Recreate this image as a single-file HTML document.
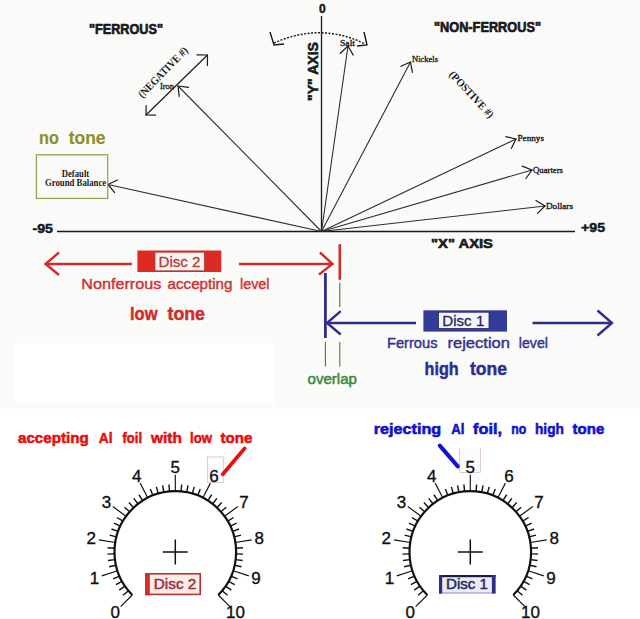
<!DOCTYPE html><html><head><meta charset="utf-8"><title>Disc diagram</title>
<style>html,body{margin:0;padding:0;background:#fff;}svg{display:block}text{font-family:"Liberation Sans",sans-serif}.se{font-family:"Liberation Serif",serif}</style></head><body>
<svg width="640" height="619" viewBox="0 0 640 619">
<rect x="0" y="0" width="640" height="619" fill="#ffffff"/>
<rect x="0" y="0" width="640" height="409" fill="#fafaf9"/>
<rect x="15" y="343" width="259" height="61" fill="#ffffff"/>
<line x1="57" y1="231.5" x2="575" y2="231.5" stroke="#1a1a1a" stroke-width="1.3"/>
<line x1="321.5" y1="16" x2="321.5" y2="231.5" stroke="#1a1a1a" stroke-width="1.3"/>
<line x1="321.5" y1="231.5" x2="108" y2="184.5" stroke="#2e2e2e" stroke-width="1.1"/>
<line x1="108.0" y1="184.5" x2="117.5" y2="180.0" stroke="#1a1a1a" stroke-width="1.2" stroke-linecap="round"/><line x1="108.0" y1="184.5" x2="114.7" y2="192.6" stroke="#1a1a1a" stroke-width="1.2" stroke-linecap="round"/>
<line x1="321.5" y1="231.5" x2="178" y2="86" stroke="#2e2e2e" stroke-width="1.1"/>
<line x1="178.0" y1="86.0" x2="188.4" y2="87.4" stroke="#1a1a1a" stroke-width="1.2" stroke-linecap="round"/><line x1="178.0" y1="86.0" x2="179.2" y2="96.4" stroke="#1a1a1a" stroke-width="1.2" stroke-linecap="round"/>
<line x1="321.5" y1="231.5" x2="348" y2="46" stroke="#2e2e2e" stroke-width="1.1"/>
<line x1="348.0" y1="46.0" x2="353.2" y2="55.1" stroke="#1a1a1a" stroke-width="1.2" stroke-linecap="round"/><line x1="348.0" y1="46.0" x2="340.4" y2="53.3" stroke="#1a1a1a" stroke-width="1.2" stroke-linecap="round"/>
<line x1="321.5" y1="231.5" x2="410.5" y2="62" stroke="#2e2e2e" stroke-width="1.1"/>
<line x1="410.5" y1="62.0" x2="412.4" y2="72.3" stroke="#1a1a1a" stroke-width="1.2" stroke-linecap="round"/><line x1="410.5" y1="62.0" x2="400.9" y2="66.3" stroke="#1a1a1a" stroke-width="1.2" stroke-linecap="round"/>
<line x1="321.5" y1="231.5" x2="516" y2="139" stroke="#2e2e2e" stroke-width="1.1"/>
<line x1="516.0" y1="139.0" x2="511.3" y2="148.4" stroke="#1a1a1a" stroke-width="1.2" stroke-linecap="round"/><line x1="516.0" y1="139.0" x2="505.8" y2="136.7" stroke="#1a1a1a" stroke-width="1.2" stroke-linecap="round"/>
<line x1="321.5" y1="231.5" x2="532" y2="170" stroke="#2e2e2e" stroke-width="1.1"/>
<line x1="532.0" y1="170.0" x2="525.9" y2="178.5" stroke="#1a1a1a" stroke-width="1.2" stroke-linecap="round"/><line x1="532.0" y1="170.0" x2="522.2" y2="166.1" stroke="#1a1a1a" stroke-width="1.2" stroke-linecap="round"/>
<line x1="321.5" y1="231.5" x2="545" y2="206" stroke="#2e2e2e" stroke-width="1.1"/>
<line x1="545.0" y1="206.0" x2="537.5" y2="213.4" stroke="#1a1a1a" stroke-width="1.2" stroke-linecap="round"/><line x1="545.0" y1="206.0" x2="536.0" y2="200.5" stroke="#1a1a1a" stroke-width="1.2" stroke-linecap="round"/>
<line x1="146" y1="115" x2="207.5" y2="55" stroke="#1a1a1a" stroke-width="1.2"/>
<line x1="207.5" y1="55.0" x2="207.4" y2="65.5" stroke="#1a1a1a" stroke-width="1.2" stroke-linecap="round"/><line x1="207.5" y1="55.0" x2="197.0" y2="54.9" stroke="#1a1a1a" stroke-width="1.2" stroke-linecap="round"/>
<line x1="146.0" y1="115.0" x2="146.1" y2="105.5" stroke="#1a1a1a" stroke-width="1.2" stroke-linecap="round"/><line x1="146.0" y1="115.0" x2="155.5" y2="115.1" stroke="#1a1a1a" stroke-width="1.2" stroke-linecap="round"/>
<path d="M274,43 Q321,22 365,44" fill="none" stroke="#1a1a1a" stroke-width="1.5" stroke-dasharray="2,1.5"/>
<polyline points="270,32 274,45 284,44" fill="none" stroke="#1a1a1a" stroke-width="1.4"/>
<polyline points="364,32 367,45 357,46" fill="none" stroke="#1a1a1a" stroke-width="1.4"/>
<text x="89" y="34" font-size="14.5" font-weight="bold" fill="#1a1a1a" text-anchor="start" stroke="#1a1a1a" stroke-width="0.7" stroke-linejoin="round" textLength="74" lengthAdjust="spacingAndGlyphs" >"FERROUS"</text>
<text x="434" y="32" font-size="14.5" font-weight="bold" fill="#1a1a1a" text-anchor="start" stroke="#1a1a1a" stroke-width="0.7" stroke-linejoin="round" textLength="107" lengthAdjust="spacingAndGlyphs" >"NON-FERROUS"</text>
<text x="319" y="13" font-size="12" font-weight="bold" fill="#1a1a1a" text-anchor="start" stroke="#1a1a1a" stroke-width="0.5" stroke-linejoin="round" >0</text>
<text x="32.5" y="232.5" font-size="12" font-weight="bold" fill="#1a1a1a" text-anchor="start" stroke="#1a1a1a" stroke-width="0.5" stroke-linejoin="round" textLength="20.5" lengthAdjust="spacingAndGlyphs" >-95</text>
<text x="581" y="231.5" font-size="12" font-weight="bold" fill="#1a1a1a" text-anchor="start" stroke="#1a1a1a" stroke-width="0.5" stroke-linejoin="round" textLength="24" lengthAdjust="spacingAndGlyphs" >+95</text>
<text x="431" y="248" font-size="13" font-weight="bold" fill="#1a1a1a" text-anchor="start" stroke="#1a1a1a" stroke-width="0.6" stroke-linejoin="round" textLength="62" lengthAdjust="spacingAndGlyphs" >"X" AXIS</text>
<text transform="translate(317.5,101) rotate(-90)" font-size="14" font-weight="bold" fill="#1a1a1a" stroke="#1a1a1a" stroke-width="0.6" textLength="59" lengthAdjust="spacingAndGlyphs">"Y" AXIS</text>
<text class="se" transform="translate(142.6,98.5) rotate(-46)" font-size="11" font-weight="bold" fill="#1a1a1a" textLength="66" lengthAdjust="spacingAndGlyphs">(NEGATIVE #)</text>
<text class="se" transform="translate(448.5,75) rotate(47)" font-size="11" font-weight="bold" fill="#1a1a1a" textLength="60" lengthAdjust="spacingAndGlyphs">(POSTIVE #)</text>
<text x="160" y="89" font-size="9" font-weight="normal" fill="#1a1a1a" text-anchor="start" stroke="#1a1a1a" stroke-width="0.35" stroke-linejoin="round" textLength="14" lengthAdjust="spacingAndGlyphs" class="se" >Iron</text>
<text x="340" y="46" font-size="9" font-weight="normal" fill="#1a1a1a" text-anchor="start" stroke="#1a1a1a" stroke-width="0.35" stroke-linejoin="round" textLength="15" lengthAdjust="spacingAndGlyphs" class="se" >Salt</text>
<text x="412" y="62" font-size="9" font-weight="normal" fill="#1a1a1a" text-anchor="start" stroke="#1a1a1a" stroke-width="0.35" stroke-linejoin="round" textLength="26" lengthAdjust="spacingAndGlyphs" class="se" >Nickels</text>
<text x="517.5" y="141" font-size="9" font-weight="normal" fill="#1a1a1a" text-anchor="start" stroke="#1a1a1a" stroke-width="0.35" stroke-linejoin="round" textLength="26.5" lengthAdjust="spacingAndGlyphs" class="se" >Pennys</text>
<text x="533" y="173" font-size="9" font-weight="normal" fill="#1a1a1a" text-anchor="start" stroke="#1a1a1a" stroke-width="0.35" stroke-linejoin="round" textLength="30" lengthAdjust="spacingAndGlyphs" class="se" >Quarters</text>
<text x="546" y="209" font-size="9" font-weight="normal" fill="#1a1a1a" text-anchor="start" stroke="#1a1a1a" stroke-width="0.35" stroke-linejoin="round" textLength="27" lengthAdjust="spacingAndGlyphs" class="se" >Dollars</text>
<text x="61.7" y="176.8" font-size="9.5" font-weight="bold" fill="#1a1a1a" text-anchor="start" textLength="27.5" lengthAdjust="spacingAndGlyphs" class="se" >Default</text>
<text x="45" y="186" font-size="9.5" font-weight="bold" fill="#1a1a1a" text-anchor="start" textLength="61.2" lengthAdjust="spacingAndGlyphs" class="se" >Ground Balance</text>
<text x="39" y="143.6" font-size="18.5" font-weight="bold" fill="#8f8f2c" text-anchor="start" stroke="#8f8f2c" stroke-width="0.2" stroke-linejoin="round" textLength="19.8" lengthAdjust="spacingAndGlyphs" >no</text>
<text x="68.75" y="143.6" font-size="18.5" font-weight="bold" fill="#8f8f2c" text-anchor="start" stroke="#8f8f2c" stroke-width="0.2" stroke-linejoin="round" textLength="36.8" lengthAdjust="spacingAndGlyphs" >tone</text>
<rect x="36.4" y="154.8" width="71.3" height="43.6" fill="none" stroke="#a0a052" stroke-width="1.3"/>
<line x1="46" y1="264" x2="132" y2="264" stroke="#cf2c2c" stroke-width="2.4"/>
<polyline points="59,252.5 45.5,264 59,275" fill="none" stroke="#cf2c2c" stroke-width="2.4" stroke-linejoin="miter"/>
<rect x="137.4" y="250.5" width="83.9" height="21.5" fill="#de2a24"/>
<rect x="155" y="252.2" width="49.4" height="18.6" fill="#fbf4f1" stroke="#b23a34" stroke-width="0.8"/>
<text x="158.5" y="267.2" font-size="15.5" font-weight="normal" fill="#b43a3a" text-anchor="start" stroke="#b43a3a" stroke-width="0.3" stroke-linejoin="round" textLength="42" lengthAdjust="spacingAndGlyphs" >Disc 2</text>
<line x1="239" y1="264" x2="332" y2="264" stroke="#cf2c2c" stroke-width="2.4"/>
<polyline points="320,252.5 332.5,264 319,274.5" fill="none" stroke="#cf2c2c" stroke-width="2.4"/>
<line x1="339.8" y1="244.2" x2="339.8" y2="279.8" stroke="#cf2c2c" stroke-width="2.6"/>
<text x="81.25" y="289" font-size="15.5" font-weight="normal" fill="#cc3434" text-anchor="start" stroke="#cc3434" stroke-width="0.45" stroke-linejoin="round" textLength="80.0" lengthAdjust="spacingAndGlyphs" >Nonferrous</text>
<text x="167.5" y="289" font-size="15.5" font-weight="normal" fill="#cc3434" text-anchor="start" stroke="#cc3434" stroke-width="0.45" stroke-linejoin="round" textLength="65.0" lengthAdjust="spacingAndGlyphs" >accepting</text>
<text x="240" y="289" font-size="15.5" font-weight="normal" fill="#cc3434" text-anchor="start" stroke="#cc3434" stroke-width="0.45" stroke-linejoin="round" textLength="29.5" lengthAdjust="spacingAndGlyphs" >level</text>
<text x="130" y="320" font-size="19" font-weight="bold" fill="#cf2c2c" text-anchor="start" stroke="#cf2c2c" stroke-width="0.5" stroke-linejoin="round" textLength="27.5" lengthAdjust="spacingAndGlyphs" >low</text>
<text x="167.5" y="320" font-size="19" font-weight="bold" fill="#cf2c2c" text-anchor="start" stroke="#cf2c2c" stroke-width="0.5" stroke-linejoin="round" textLength="37.5" lengthAdjust="spacingAndGlyphs" >tone</text>
<line x1="339.8" y1="282.5" x2="339.8" y2="307" stroke="#4d6a4d" stroke-width="1.1"/>
<line x1="339.8" y1="342" x2="339.8" y2="366.5" stroke="#3f7f3f" stroke-width="1.1"/>
<line x1="325.4" y1="342" x2="325.4" y2="366.5" stroke="#3f7f3f" stroke-width="1.1"/>
<text x="307.5" y="384" font-size="14" font-weight="normal" fill="#3c8a3c" text-anchor="start" stroke="#3c8a3c" stroke-width="0.5" stroke-linejoin="round" textLength="49.5" lengthAdjust="spacingAndGlyphs" >overlap</text>
<line x1="325.4" y1="273" x2="325.4" y2="338" stroke="#2e2e8c" stroke-width="2.8"/>
<line x1="327" y1="323" x2="416" y2="323" stroke="#2e2e8c" stroke-width="2.4"/>
<polyline points="340.7,311.2 327,323 340.7,334.5" fill="none" stroke="#2e2e8c" stroke-width="2.4"/>
<rect x="423.4" y="310.3" width="83.6" height="21.3" fill="#343c9a"/>
<rect x="438.4" y="312.2" width="50.6" height="16.4" fill="#f4f5fb" stroke="#23235e" stroke-width="0.8"/>
<text x="442.3" y="325.8" font-size="15.5" font-weight="normal" fill="#25255f" text-anchor="start" stroke="#25255f" stroke-width="0.3" stroke-linejoin="round" textLength="42" lengthAdjust="spacingAndGlyphs" >Disc 1</text>
<line x1="532.5" y1="323" x2="611" y2="323" stroke="#2e2e8c" stroke-width="2.4"/>
<polyline points="597.5,310.5 612,323 597.5,335.5" fill="none" stroke="#2e2e8c" stroke-width="2.4"/>
<text x="387" y="348" font-size="15.5" font-weight="normal" fill="#33338f" text-anchor="start" stroke="#33338f" stroke-width="0.45" stroke-linejoin="round" textLength="50.5" lengthAdjust="spacingAndGlyphs" >Ferrous</text>
<text x="447.5" y="348" font-size="15.5" font-weight="normal" fill="#33338f" text-anchor="start" stroke="#33338f" stroke-width="0.45" stroke-linejoin="round" textLength="62.5" lengthAdjust="spacingAndGlyphs" >rejection</text>
<text x="518.75" y="348" font-size="15.5" font-weight="normal" fill="#33338f" text-anchor="start" stroke="#33338f" stroke-width="0.45" stroke-linejoin="round" textLength="29.2" lengthAdjust="spacingAndGlyphs" >level</text>
<text x="424.5" y="375" font-size="19" font-weight="bold" fill="#2e2e8c" text-anchor="start" stroke="#2e2e8c" stroke-width="0.5" stroke-linejoin="round" textLength="34.2" lengthAdjust="spacingAndGlyphs" >high</text>
<text x="470" y="375" font-size="19" font-weight="bold" fill="#2e2e8c" text-anchor="start" stroke="#2e2e8c" stroke-width="0.5" stroke-linejoin="round" textLength="37" lengthAdjust="spacingAndGlyphs" >tone</text>
<text x="18" y="443" font-size="15" font-weight="bold" fill="#e41212" text-anchor="start" stroke="#e41212" stroke-width="0.6" stroke-linejoin="round" textLength="70.8" lengthAdjust="spacingAndGlyphs" >accepting</text>
<text x="98.75" y="443" font-size="15" font-weight="bold" fill="#e41212" text-anchor="start" stroke="#e41212" stroke-width="0.6" stroke-linejoin="round" textLength="13.8" lengthAdjust="spacingAndGlyphs" >Al</text>
<text x="122.5" y="443" font-size="15" font-weight="bold" fill="#e41212" text-anchor="start" stroke="#e41212" stroke-width="0.6" stroke-linejoin="round" textLength="19.5" lengthAdjust="spacingAndGlyphs" >foil</text>
<text x="151" y="443" font-size="15" font-weight="bold" fill="#e41212" text-anchor="start" stroke="#e41212" stroke-width="0.6" stroke-linejoin="round" textLength="31" lengthAdjust="spacingAndGlyphs" >with</text>
<text x="190" y="443" font-size="15" font-weight="bold" fill="#e41212" text-anchor="start" stroke="#e41212" stroke-width="0.6" stroke-linejoin="round" textLength="22" lengthAdjust="spacingAndGlyphs" >low</text>
<text x="220.5" y="443" font-size="15" font-weight="bold" fill="#e41212" text-anchor="start" stroke="#e41212" stroke-width="0.6" stroke-linejoin="round" textLength="32.0" lengthAdjust="spacingAndGlyphs" >tone</text>
<text x="373.75" y="434" font-size="15" font-weight="bold" fill="#1212cc" text-anchor="start" stroke="#1212cc" stroke-width="0.6" stroke-linejoin="round" textLength="67.5" lengthAdjust="spacingAndGlyphs" >rejecting</text>
<text x="451.25" y="434" font-size="15" font-weight="bold" fill="#1212cc" text-anchor="start" stroke="#1212cc" stroke-width="0.6" stroke-linejoin="round" textLength="13.2" lengthAdjust="spacingAndGlyphs" >Al</text>
<text x="473" y="434" font-size="15" font-weight="bold" fill="#1212cc" text-anchor="start" stroke="#1212cc" stroke-width="0.6" stroke-linejoin="round" textLength="29" lengthAdjust="spacingAndGlyphs" >foil,</text>
<text x="511.25" y="434" font-size="15" font-weight="bold" fill="#1212cc" text-anchor="start" stroke="#1212cc" stroke-width="0.6" stroke-linejoin="round" textLength="15.0" lengthAdjust="spacingAndGlyphs" >no</text>
<text x="535" y="434" font-size="15" font-weight="bold" fill="#1212cc" text-anchor="start" stroke="#1212cc" stroke-width="0.6" stroke-linejoin="round" textLength="28.8" lengthAdjust="spacingAndGlyphs" >high</text>
<text x="572.5" y="434" font-size="15" font-weight="bold" fill="#1212cc" text-anchor="start" stroke="#1212cc" stroke-width="0.6" stroke-linejoin="round" textLength="31.8" lengthAdjust="spacingAndGlyphs" >tone</text>
<rect x="207.5" y="457" width="15.8" height="25.5" fill="#fdfcfc" stroke="#e0cfcf" stroke-width="1"/>
<polyline points="459.5,448 459.5,472.5 480.5,472.5 480.5,448" fill="#fdfcfc" stroke="#e0cfcf" stroke-width="1"/>
<path d="M132.31,594.99 A60.8,60.8 0 1 1 218.29,594.99" fill="none" stroke="#111" stroke-width="2.2"/>
<line x1="132.31" y1="594.99" x2="120.64" y2="606.66" stroke="#111" stroke-width="1.15"/>
<text x="115.2" y="617.8" font-size="17" fill="#111" stroke="#111" stroke-width="0.35" text-anchor="middle">0</text>
<line x1="128.45" y1="590.76" x2="123.06" y2="595.22" stroke="#111" stroke-width="1.4"/>
<line x1="125.01" y1="586.17" x2="119.22" y2="590.11" stroke="#111" stroke-width="1.4"/>
<line x1="122.02" y1="581.29" x2="115.89" y2="584.66" stroke="#111" stroke-width="1.4"/>
<line x1="119.50" y1="576.15" x2="113.08" y2="578.93" stroke="#111" stroke-width="1.4"/>
<line x1="117.48" y1="570.79" x2="101.78" y2="575.89" stroke="#111" stroke-width="1.15"/>
<text x="94.5" y="584.0" font-size="17" fill="#111" stroke="#111" stroke-width="0.35" text-anchor="middle">1</text>
<line x1="115.96" y1="565.26" x2="109.13" y2="566.79" stroke="#111" stroke-width="1.4"/>
<line x1="114.98" y1="559.62" x2="108.03" y2="560.50" stroke="#111" stroke-width="1.4"/>
<line x1="114.53" y1="553.91" x2="107.53" y2="554.13" stroke="#111" stroke-width="1.4"/>
<line x1="114.62" y1="548.18" x2="107.63" y2="547.74" stroke="#111" stroke-width="1.4"/>
<line x1="115.25" y1="542.49" x2="98.95" y2="539.91" stroke="#111" stroke-width="1.15"/>
<text x="91.3" y="544.4" font-size="17" fill="#111" stroke="#111" stroke-width="0.35" text-anchor="middle">2</text>
<line x1="116.41" y1="536.88" x2="109.63" y2="535.14" stroke="#111" stroke-width="1.4"/>
<line x1="118.09" y1="531.40" x2="111.51" y2="529.03" stroke="#111" stroke-width="1.4"/>
<line x1="120.29" y1="526.11" x2="113.95" y2="523.13" stroke="#111" stroke-width="1.4"/>
<line x1="122.97" y1="521.05" x2="116.94" y2="517.49" stroke="#111" stroke-width="1.4"/>
<line x1="126.11" y1="516.26" x2="112.76" y2="506.56" stroke="#111" stroke-width="1.15"/>
<text x="106.5" y="507.7" font-size="17" fill="#111" stroke="#111" stroke-width="0.35" text-anchor="middle">3</text>
<line x1="129.69" y1="511.79" x2="124.44" y2="507.16" stroke="#111" stroke-width="1.4"/>
<line x1="133.68" y1="507.68" x2="128.89" y2="502.58" stroke="#111" stroke-width="1.4"/>
<line x1="138.04" y1="503.96" x2="133.74" y2="498.43" stroke="#111" stroke-width="1.4"/>
<line x1="142.72" y1="500.66" x2="138.97" y2="494.75" stroke="#111" stroke-width="1.4"/>
<line x1="147.70" y1="497.83" x2="140.21" y2="483.13" stroke="#111" stroke-width="1.15"/>
<text x="136.7" y="482.0" font-size="17" fill="#111" stroke="#111" stroke-width="0.35" text-anchor="middle">4</text>
<line x1="152.92" y1="495.47" x2="150.34" y2="488.96" stroke="#111" stroke-width="1.4"/>
<line x1="158.34" y1="493.61" x2="156.38" y2="486.89" stroke="#111" stroke-width="1.4"/>
<line x1="163.91" y1="492.28" x2="162.60" y2="485.40" stroke="#111" stroke-width="1.4"/>
<line x1="169.58" y1="491.47" x2="168.92" y2="484.50" stroke="#111" stroke-width="1.4"/>
<line x1="175.30" y1="491.20" x2="175.30" y2="474.70" stroke="#111" stroke-width="1.15"/>
<text x="175.3" y="472.7" font-size="17" fill="#111" stroke="#111" stroke-width="0.35" text-anchor="middle">5</text>
<line x1="181.02" y1="491.47" x2="181.68" y2="484.50" stroke="#111" stroke-width="1.4"/>
<line x1="186.69" y1="492.28" x2="188.00" y2="485.40" stroke="#111" stroke-width="1.4"/>
<line x1="192.26" y1="493.61" x2="194.22" y2="486.89" stroke="#111" stroke-width="1.4"/>
<line x1="197.68" y1="495.47" x2="200.26" y2="488.96" stroke="#111" stroke-width="1.4"/>
<line x1="202.90" y1="497.83" x2="210.39" y2="483.13" stroke="#111" stroke-width="1.15"/>
<text x="213.9" y="482.0" font-size="17" fill="#111" stroke="#111" stroke-width="0.35" text-anchor="middle">6</text>
<line x1="207.88" y1="500.66" x2="211.63" y2="494.75" stroke="#111" stroke-width="1.4"/>
<line x1="212.56" y1="503.96" x2="216.86" y2="498.43" stroke="#111" stroke-width="1.4"/>
<line x1="216.92" y1="507.68" x2="221.71" y2="502.58" stroke="#111" stroke-width="1.4"/>
<line x1="220.91" y1="511.79" x2="226.16" y2="507.16" stroke="#111" stroke-width="1.4"/>
<line x1="224.49" y1="516.26" x2="237.84" y2="506.56" stroke="#111" stroke-width="1.15"/>
<text x="244.1" y="507.7" font-size="17" fill="#111" stroke="#111" stroke-width="0.35" text-anchor="middle">7</text>
<line x1="227.63" y1="521.05" x2="233.66" y2="517.49" stroke="#111" stroke-width="1.4"/>
<line x1="230.31" y1="526.11" x2="236.65" y2="523.13" stroke="#111" stroke-width="1.4"/>
<line x1="232.51" y1="531.40" x2="239.09" y2="529.03" stroke="#111" stroke-width="1.4"/>
<line x1="234.19" y1="536.88" x2="240.97" y2="535.14" stroke="#111" stroke-width="1.4"/>
<line x1="235.35" y1="542.49" x2="251.65" y2="539.91" stroke="#111" stroke-width="1.15"/>
<text x="259.3" y="544.4" font-size="17" fill="#111" stroke="#111" stroke-width="0.35" text-anchor="middle">8</text>
<line x1="235.98" y1="548.18" x2="242.97" y2="547.74" stroke="#111" stroke-width="1.4"/>
<line x1="236.07" y1="553.91" x2="243.07" y2="554.13" stroke="#111" stroke-width="1.4"/>
<line x1="235.62" y1="559.62" x2="242.57" y2="560.50" stroke="#111" stroke-width="1.4"/>
<line x1="234.64" y1="565.26" x2="241.47" y2="566.79" stroke="#111" stroke-width="1.4"/>
<line x1="233.12" y1="570.79" x2="248.82" y2="575.89" stroke="#111" stroke-width="1.15"/>
<text x="256.1" y="584.0" font-size="17" fill="#111" stroke="#111" stroke-width="0.35" text-anchor="middle">9</text>
<line x1="231.10" y1="576.15" x2="237.52" y2="578.93" stroke="#111" stroke-width="1.4"/>
<line x1="228.58" y1="581.29" x2="234.71" y2="584.66" stroke="#111" stroke-width="1.4"/>
<line x1="225.59" y1="586.17" x2="231.38" y2="590.11" stroke="#111" stroke-width="1.4"/>
<line x1="222.15" y1="590.76" x2="227.54" y2="595.22" stroke="#111" stroke-width="1.4"/>
<line x1="218.29" y1="594.99" x2="229.96" y2="606.66" stroke="#111" stroke-width="1.15"/>
<text x="235.4" y="617.8" font-size="17" fill="#111" stroke="#111" stroke-width="0.35" text-anchor="middle">10</text>
<line x1="162.8" y1="552" x2="187.8" y2="552" stroke="#111" stroke-width="1.5"/>
<line x1="175.3" y1="539.5" x2="175.3" y2="564.5" stroke="#111" stroke-width="1.5"/>
<path d="M427.31,594.99 A60.8,60.8 0 1 1 513.29,594.99" fill="none" stroke="#111" stroke-width="2.2"/>
<line x1="427.31" y1="594.99" x2="415.64" y2="606.66" stroke="#111" stroke-width="1.15"/>
<text x="410.2" y="617.8" font-size="17" fill="#111" stroke="#111" stroke-width="0.35" text-anchor="middle">0</text>
<line x1="423.45" y1="590.76" x2="418.06" y2="595.22" stroke="#111" stroke-width="1.4"/>
<line x1="420.01" y1="586.17" x2="414.22" y2="590.11" stroke="#111" stroke-width="1.4"/>
<line x1="417.02" y1="581.29" x2="410.89" y2="584.66" stroke="#111" stroke-width="1.4"/>
<line x1="414.50" y1="576.15" x2="408.08" y2="578.93" stroke="#111" stroke-width="1.4"/>
<line x1="412.48" y1="570.79" x2="396.78" y2="575.89" stroke="#111" stroke-width="1.15"/>
<text x="389.5" y="584.0" font-size="17" fill="#111" stroke="#111" stroke-width="0.35" text-anchor="middle">1</text>
<line x1="410.96" y1="565.26" x2="404.13" y2="566.79" stroke="#111" stroke-width="1.4"/>
<line x1="409.98" y1="559.62" x2="403.03" y2="560.50" stroke="#111" stroke-width="1.4"/>
<line x1="409.53" y1="553.91" x2="402.53" y2="554.13" stroke="#111" stroke-width="1.4"/>
<line x1="409.62" y1="548.18" x2="402.63" y2="547.74" stroke="#111" stroke-width="1.4"/>
<line x1="410.25" y1="542.49" x2="393.95" y2="539.91" stroke="#111" stroke-width="1.15"/>
<text x="386.3" y="544.4" font-size="17" fill="#111" stroke="#111" stroke-width="0.35" text-anchor="middle">2</text>
<line x1="411.41" y1="536.88" x2="404.63" y2="535.14" stroke="#111" stroke-width="1.4"/>
<line x1="413.09" y1="531.40" x2="406.51" y2="529.03" stroke="#111" stroke-width="1.4"/>
<line x1="415.29" y1="526.11" x2="408.95" y2="523.13" stroke="#111" stroke-width="1.4"/>
<line x1="417.97" y1="521.05" x2="411.94" y2="517.49" stroke="#111" stroke-width="1.4"/>
<line x1="421.11" y1="516.26" x2="407.76" y2="506.56" stroke="#111" stroke-width="1.15"/>
<text x="401.5" y="507.7" font-size="17" fill="#111" stroke="#111" stroke-width="0.35" text-anchor="middle">3</text>
<line x1="424.69" y1="511.79" x2="419.44" y2="507.16" stroke="#111" stroke-width="1.4"/>
<line x1="428.68" y1="507.68" x2="423.89" y2="502.58" stroke="#111" stroke-width="1.4"/>
<line x1="433.04" y1="503.96" x2="428.74" y2="498.43" stroke="#111" stroke-width="1.4"/>
<line x1="437.72" y1="500.66" x2="433.97" y2="494.75" stroke="#111" stroke-width="1.4"/>
<line x1="442.70" y1="497.83" x2="435.21" y2="483.13" stroke="#111" stroke-width="1.15"/>
<text x="431.7" y="482.0" font-size="17" fill="#111" stroke="#111" stroke-width="0.35" text-anchor="middle">4</text>
<line x1="447.92" y1="495.47" x2="445.34" y2="488.96" stroke="#111" stroke-width="1.4"/>
<line x1="453.34" y1="493.61" x2="451.38" y2="486.89" stroke="#111" stroke-width="1.4"/>
<line x1="458.91" y1="492.28" x2="457.60" y2="485.40" stroke="#111" stroke-width="1.4"/>
<line x1="464.58" y1="491.47" x2="463.92" y2="484.50" stroke="#111" stroke-width="1.4"/>
<line x1="470.30" y1="491.20" x2="470.30" y2="474.70" stroke="#111" stroke-width="1.15"/>
<text x="470.3" y="472.7" font-size="17" fill="#111" stroke="#111" stroke-width="0.35" text-anchor="middle">5</text>
<line x1="476.02" y1="491.47" x2="476.68" y2="484.50" stroke="#111" stroke-width="1.4"/>
<line x1="481.69" y1="492.28" x2="483.00" y2="485.40" stroke="#111" stroke-width="1.4"/>
<line x1="487.26" y1="493.61" x2="489.22" y2="486.89" stroke="#111" stroke-width="1.4"/>
<line x1="492.68" y1="495.47" x2="495.26" y2="488.96" stroke="#111" stroke-width="1.4"/>
<line x1="497.90" y1="497.83" x2="505.39" y2="483.13" stroke="#111" stroke-width="1.15"/>
<text x="508.9" y="482.0" font-size="17" fill="#111" stroke="#111" stroke-width="0.35" text-anchor="middle">6</text>
<line x1="502.88" y1="500.66" x2="506.63" y2="494.75" stroke="#111" stroke-width="1.4"/>
<line x1="507.56" y1="503.96" x2="511.86" y2="498.43" stroke="#111" stroke-width="1.4"/>
<line x1="511.92" y1="507.68" x2="516.71" y2="502.58" stroke="#111" stroke-width="1.4"/>
<line x1="515.91" y1="511.79" x2="521.16" y2="507.16" stroke="#111" stroke-width="1.4"/>
<line x1="519.49" y1="516.26" x2="532.84" y2="506.56" stroke="#111" stroke-width="1.15"/>
<text x="539.1" y="507.7" font-size="17" fill="#111" stroke="#111" stroke-width="0.35" text-anchor="middle">7</text>
<line x1="522.63" y1="521.05" x2="528.66" y2="517.49" stroke="#111" stroke-width="1.4"/>
<line x1="525.31" y1="526.11" x2="531.65" y2="523.13" stroke="#111" stroke-width="1.4"/>
<line x1="527.51" y1="531.40" x2="534.09" y2="529.03" stroke="#111" stroke-width="1.4"/>
<line x1="529.19" y1="536.88" x2="535.97" y2="535.14" stroke="#111" stroke-width="1.4"/>
<line x1="530.35" y1="542.49" x2="546.65" y2="539.91" stroke="#111" stroke-width="1.15"/>
<text x="554.3" y="544.4" font-size="17" fill="#111" stroke="#111" stroke-width="0.35" text-anchor="middle">8</text>
<line x1="530.98" y1="548.18" x2="537.97" y2="547.74" stroke="#111" stroke-width="1.4"/>
<line x1="531.07" y1="553.91" x2="538.07" y2="554.13" stroke="#111" stroke-width="1.4"/>
<line x1="530.62" y1="559.62" x2="537.57" y2="560.50" stroke="#111" stroke-width="1.4"/>
<line x1="529.64" y1="565.26" x2="536.47" y2="566.79" stroke="#111" stroke-width="1.4"/>
<line x1="528.12" y1="570.79" x2="543.82" y2="575.89" stroke="#111" stroke-width="1.15"/>
<text x="551.1" y="584.0" font-size="17" fill="#111" stroke="#111" stroke-width="0.35" text-anchor="middle">9</text>
<line x1="526.10" y1="576.15" x2="532.52" y2="578.93" stroke="#111" stroke-width="1.4"/>
<line x1="523.58" y1="581.29" x2="529.71" y2="584.66" stroke="#111" stroke-width="1.4"/>
<line x1="520.59" y1="586.17" x2="526.38" y2="590.11" stroke="#111" stroke-width="1.4"/>
<line x1="517.15" y1="590.76" x2="522.54" y2="595.22" stroke="#111" stroke-width="1.4"/>
<line x1="513.29" y1="594.99" x2="524.96" y2="606.66" stroke="#111" stroke-width="1.15"/>
<text x="530.4" y="617.8" font-size="17" fill="#111" stroke="#111" stroke-width="0.35" text-anchor="middle">10</text>
<line x1="457.8" y1="552" x2="482.8" y2="552" stroke="#111" stroke-width="1.5"/>
<line x1="470.3" y1="539.5" x2="470.3" y2="564.5" stroke="#111" stroke-width="1.5"/>
<rect x="145.8" y="573.8" width="54.4" height="20.6" fill="#fbecea" stroke="#b83434" stroke-width="1.6"/>
<rect x="145" y="573" width="4.8" height="22.2" fill="#d42c2c"/>
<text x="153.8" y="589.4" font-size="14.5" font-weight="normal" fill="#9c3040" text-anchor="start" stroke="#9c3040" stroke-width="0.5" stroke-linejoin="round" textLength="42.5" lengthAdjust="spacingAndGlyphs" >Disc 2</text>
<rect x="439" y="575" width="56.6" height="18.5" fill="#e9ebf7"/>
<rect x="439" y="575" width="56.6" height="2.2" fill="#1c1c44"/>
<rect x="439" y="592.5" width="56.6" height="1" fill="#8a8cc0"/>
<rect x="439" y="575" width="3.2" height="18.5" fill="#2c2f86"/>
<rect x="491.9" y="575" width="3.7" height="18.5" fill="#2c2f86"/>
<text x="446" y="589.4" font-size="14.5" font-weight="normal" fill="#2a2a5c" text-anchor="start" stroke="#2a2a5c" stroke-width="0.5" stroke-linejoin="round" textLength="42" lengthAdjust="spacingAndGlyphs" >Disc 1</text>
<line x1="244.6" y1="448.4" x2="222.8" y2="474.3" stroke="#e61212" stroke-width="3.8" stroke-linecap="round"/>
<line x1="439.8" y1="445.6" x2="457.8" y2="466.4" stroke="#1212cc" stroke-width="4" stroke-linecap="round"/>
</svg></body></html>
